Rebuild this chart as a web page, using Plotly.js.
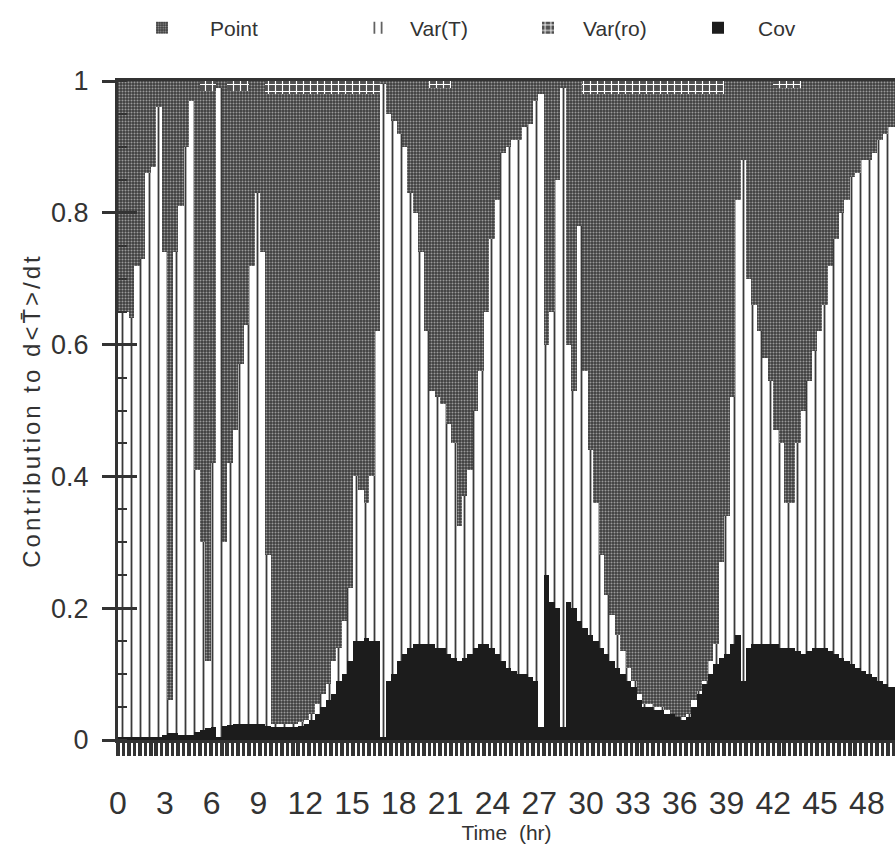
<!DOCTYPE html>
<html>
<head>
<meta charset="utf-8">
<script src="https://cdn.plot.ly/plotly-3.0.1.min.js"></script>
<style>
  html, body { margin: 0; padding: 0; background: #ffffff; }
  #chart { width: 895px; height: 850px; }
  #chart .g-xtitle text { letter-spacing: 2.5px; }
  #chart .g-ytitle text { letter-spacing: 3px; }
</style>
</head>
<body>
<div id="chart"></div>
<script>
// ---- data ----
const seriesNames = ["Point", "Var(T)", "Var(ro)", "Cov"];
const sampleStepHr = 0.35;

const cov = [
  0.005,0.005,0.005,0.005,0.005,0.005,0.005,0.005,0.008,0.01,
  0.01,0.008,0.008,0.008,0.012,0.015,0.018,0.02,0.005,0.022,
  0.023,0.024,0.025,0.025,0.025,0.025,0.024,0.022,0.02,0.02,
  0.02,0.02,0.02,0.022,0.025,0.03,0.04,0.05,0.06,0.07,
  0.09,0.10,0.12,0.15,0.15,0.155,0.15,0.15,0.005,0.09,
  0.10,0.12,0.13,0.14,0.145,0.145,0.145,0.145,0.14,0.14,
  0.13,0.125,0.12,0.125,0.13,0.14,0.145,0.145,0.14,0.13,
  0.12,0.11,0.105,0.10,0.10,0.095,0.09,0.02,0.25,0.21,
  0.20,0.02,0.21,0.20,0.18,0.17,0.16,0.15,0.14,0.13,
  0.12,0.11,0.10,0.09,0.08,0.06,0.05,0.05,0.045,0.045,
  0.04,0.04,0.035,0.03,0.035,0.05,0.07,0.085,0.10,0.115,
  0.125,0.13,0.145,0.16,0.09,0.14,0.145,0.145,0.145,0.145,
  0.145,0.14,0.14,0.14,0.135,0.13,0.135,0.14,0.14,0.14,
  0.135,0.13,0.125,0.12,0.115,0.11,0.105,0.10,0.095,0.09,
  0.085,0.08,0.08
];

const varT = [
  0.645,0.645,0.635,0.715,0.725,0.855,0.865,0.955,0.732,0.05,
  0.73,0.802,0.892,0.962,0.398,0.285,0.102,0.40,0.985,0.278,
  0.397,0.446,0.545,0.605,0.695,0.805,0.716,0.258,0.005,0.005,
  0.005,0.005,0.005,0.006,0.005,0.01,0.015,0.02,0.025,0.05,
  0.05,0.08,0.11,0.25,0.23,0.205,0.25,0.47,0.99,0.86,
  0.84,0.80,0.77,0.69,0.655,0.595,0.475,0.385,0.38,0.37,
  0.35,0.325,0.205,0.245,0.28,0.36,0.415,0.505,0.62,0.69,
  0.77,0.79,0.805,0.81,0.83,0.84,0.88,0.96,0.35,0.44,
  0.65,0.97,0.39,0.33,0.60,0.39,0.28,0.21,0.14,0.09,
  0.07,0.05,0.035,0.02,0.01,0.01,0.005,0.005,0.005,0.005,
  0.005,0,0,0.005,0.005,0.01,0.005,0.005,0.02,0.03,
  0.145,0.21,0.375,0.66,0.79,0.56,0.515,0.475,0.435,0.40,
  0.325,0.31,0.22,0.22,0.315,0.37,0.41,0.45,0.48,0.52,
  0.585,0.63,0.675,0.70,0.74,0.75,0.775,0.78,0.795,0.82,
  0.835,0.85,0.85
];

const varRo = [
  0,0,0,0,0,0,0,0,0,0,
  0,0,0,0,0,0.015,0.015,0.015,0,0,
  0.015,0.015,0.015,0.015,0,0,0,0.02,0.02,0.02,
  0.02,0.02,0.02,0.02,0.02,0.02,0.02,0.02,0.02,0.02,
  0.02,0.02,0.02,0.02,0.02,0.02,0.02,0.02,0,0,
  0,0,0,0,0,0,0,0.01,0.01,0.01,
  0.01,0,0,0,0,0,0,0,0,0,
  0,0,0,0,0,0,0,0,0,0,
  0,0,0,0,0,0.02,0.02,0.02,0.02,0.02,
  0.02,0.02,0.02,0.02,0.02,0.02,0.02,0.02,0.02,0.02,
  0.02,0.02,0.02,0.02,0.02,0.02,0.02,0.02,0.02,0.02,
  0.02,0,0,0,0,0,0,0,0,0,
  0.01,0.01,0.01,0.01,0.01,0,0,0,0,0,
  0,0,0,0,0,0,0,0,0,0,
  0,0,0
];

const point = [
  0.35,0.35,0.36,0.28,0.27,0.14,0.13,0.04,0.26,0.94,
  0.26,0.19,0.10,0.03,0.59,0.685,0.865,0.565,0.01,0.70,
  0.565,0.515,0.415,0.355,0.28,0.17,0.26,0.70,0.955,0.955,
  0.955,0.955,0.955,0.952,0.95,0.94,0.925,0.91,0.895,0.86,
  0.84,0.80,0.75,0.58,0.60,0.62,0.58,0.36,0.005,0.05,
  0.06,0.08,0.10,0.17,0.20,0.26,0.38,0.46,0.47,0.48,
  0.51,0.55,0.675,0.63,0.59,0.50,0.44,0.35,0.24,0.18,
  0.11,0.10,0.09,0.09,0.07,0.065,0.03,0.02,0.40,0.35,
  0.15,0.01,0.40,0.47,0.22,0.42,0.54,0.62,0.70,0.76,
  0.79,0.82,0.845,0.87,0.89,0.91,0.925,0.925,0.93,0.93,
  0.935,0.94,0.945,0.945,0.94,0.92,0.905,0.89,0.86,0.835,
  0.71,0.66,0.48,0.18,0.12,0.30,0.34,0.38,0.42,0.455,
  0.52,0.54,0.63,0.63,0.54,0.50,0.455,0.41,0.38,0.34,
  0.28,0.24,0.20,0.18,0.145,0.14,0.12,0.12,0.11,0.09,
  0.08,0.07,0.07
];

const xTickVals = [0,3,6,9,12,15,18,21,24,27,30,33,36,39,42,45,48];
const xTickText = ["0","3","6","9","12","15","18","21","24","27","30","33","36","39","42","45","48"];
const yTickVals = [0,0.2,0.4,0.6,0.8,1];
const yTickText = ["0","0.2","0.4","0.6","0.8","1"];

// ---- build ----
const time = cov.map((_, i) => i * sampleStepHr + sampleStepHr / 2);
const INK = "#333333";
const FONT = "Liberation Sans, Arial, Helvetica, sans-serif";

function barTrace(name, y, marker, legendId) {
  return {
    type: "bar", name: name, x: time, y: y, width: sampleStepHr,
    marker: marker, hoverinfo: "skip", legend: legendId, xaxis: "x", yaxis: "y"
  };
}

const traces = [
  barTrace(seriesNames[3], cov, { color: "#1c1c1c", line: { width: 0 } }, "legend4"),
  barTrace(seriesNames[1], varT, {
    color: "#ffffff", line: { width: 0 },
    pattern: { shape: "|", fgcolor: "#3a3a3a", bgcolor: "#ffffff", size: 9, solidity: 0.2 }
  }, "legend2"),
  barTrace(seriesNames[0], point, {
    color: "#555555", line: { width: 0 },
    pattern: { shape: ".", fgcolor: "#9a9a9a", bgcolor: "#3e3e3e", size: 3, solidity: 0.35 }
  }, "legend"),
  barTrace(seriesNames[2], varRo, {
    color: "#555555", line: { width: 0 },
    pattern: { shape: "+", fgcolor: "#ffffff", bgcolor: "#505050", size: 7, solidity: 0.3 }
  }, "legend3")
];

// invisible helper traces so the label axis (x2) and inner tick axis (y2) exist
traces.push({ type: "scatter", x: [0], y: [0], xaxis: "x2", yaxis: "y", mode: "markers",
  marker: { opacity: 0 }, showlegend: false, hoverinfo: "skip" });
traces.push({ type: "scatter", x: [0], y: [0], xaxis: "x", yaxis: "y2", mode: "markers",
  marker: { opacity: 0 }, showlegend: false, hoverinfo: "skip" });

function legendAt(px, py, itemwidth) {
  return {
    xref: "container", yref: "container", x: px / 895, y: 1 - py / 850,
    xanchor: "left", yanchor: "middle", orientation: "h",
    bgcolor: "rgba(0,0,0,0)", borderwidth: 0, itemwidth: itemwidth,
    font: { family: FONT, size: 21, color: INK }, itemclick: false
  };
}

const xRange = [0, 49.8];

const layout = {
  width: 895, height: 850,
  margin: { l: 118, r: 0, t: 81, b: 110, pad: 0 },
  paper_bgcolor: "#ffffff", plot_bgcolor: "#ffffff",
  barmode: "stack", bargap: 0,
  font: { family: FONT, color: INK },
  showlegend: true,
  legend: legendAt(114, 28, 86),
  legend2: legendAt(346, 28, 54),
  legend3: legendAt(513, 28, 60),
  legend4: legendAt(678, 28, 70),
  xaxis: {
    range: xRange, showgrid: false, zeroline: false,
    showline: true, mirror: true, linewidth: 3, linecolor: INK,
    ticks: "outside", tickmode: "linear", tick0: 0, dtick: sampleStepHr,
    ticklen: 13, tickwidth: 3.5, tickcolor: INK, showticklabels: false
  },
  xaxis2: {
    overlaying: "x", anchor: "y", side: "bottom", range: xRange,
    showgrid: false, zeroline: false, showline: false,
    tickmode: "array", tickvals: xTickVals, ticktext: xTickText,
    ticks: "outside", ticklen: 35, tickcolor: "rgba(0,0,0,0)",
    tickfont: { family: FONT, size: 32, color: INK },
    title: { text: "Time  (hr)", font: { family: FONT, size: 21, color: INK }, standoff: 0 }
  },
  yaxis: {
    range: [0, 1], showgrid: false, zeroline: false,
    showline: true, linewidth: 3, linecolor: INK,
    tickmode: "array", tickvals: yTickVals, ticktext: yTickText,
    ticks: "outside", ticklen: 13, tickwidth: 3, tickcolor: INK, ticklabelstandoff: 8,
    tickfont: { family: FONT, size: 27, color: INK },
    minor: { ticks: "inside", dtick: 0.05, tick0: 0, ticklen: 9, tickwidth: 2, tickcolor: INK },
    title: { text: "Contribution to d&lt;T\u0304&gt;/dt", font: { family: FONT, size: 24, color: INK }, standoff: 4 }
  },
  yaxis2: {
    overlaying: "y", anchor: "x", side: "left", range: [0, 1],
    showgrid: false, zeroline: false, showline: false, showticklabels: false,
    tickmode: "array", tickvals: yTickVals,
    ticks: "inside", ticklen: 19, tickwidth: 3, tickcolor: INK
  }
};

Plotly.newPlot("chart", traces, layout, { staticPlot: true, displayModeBar: false });
</script>
</body>
</html>
